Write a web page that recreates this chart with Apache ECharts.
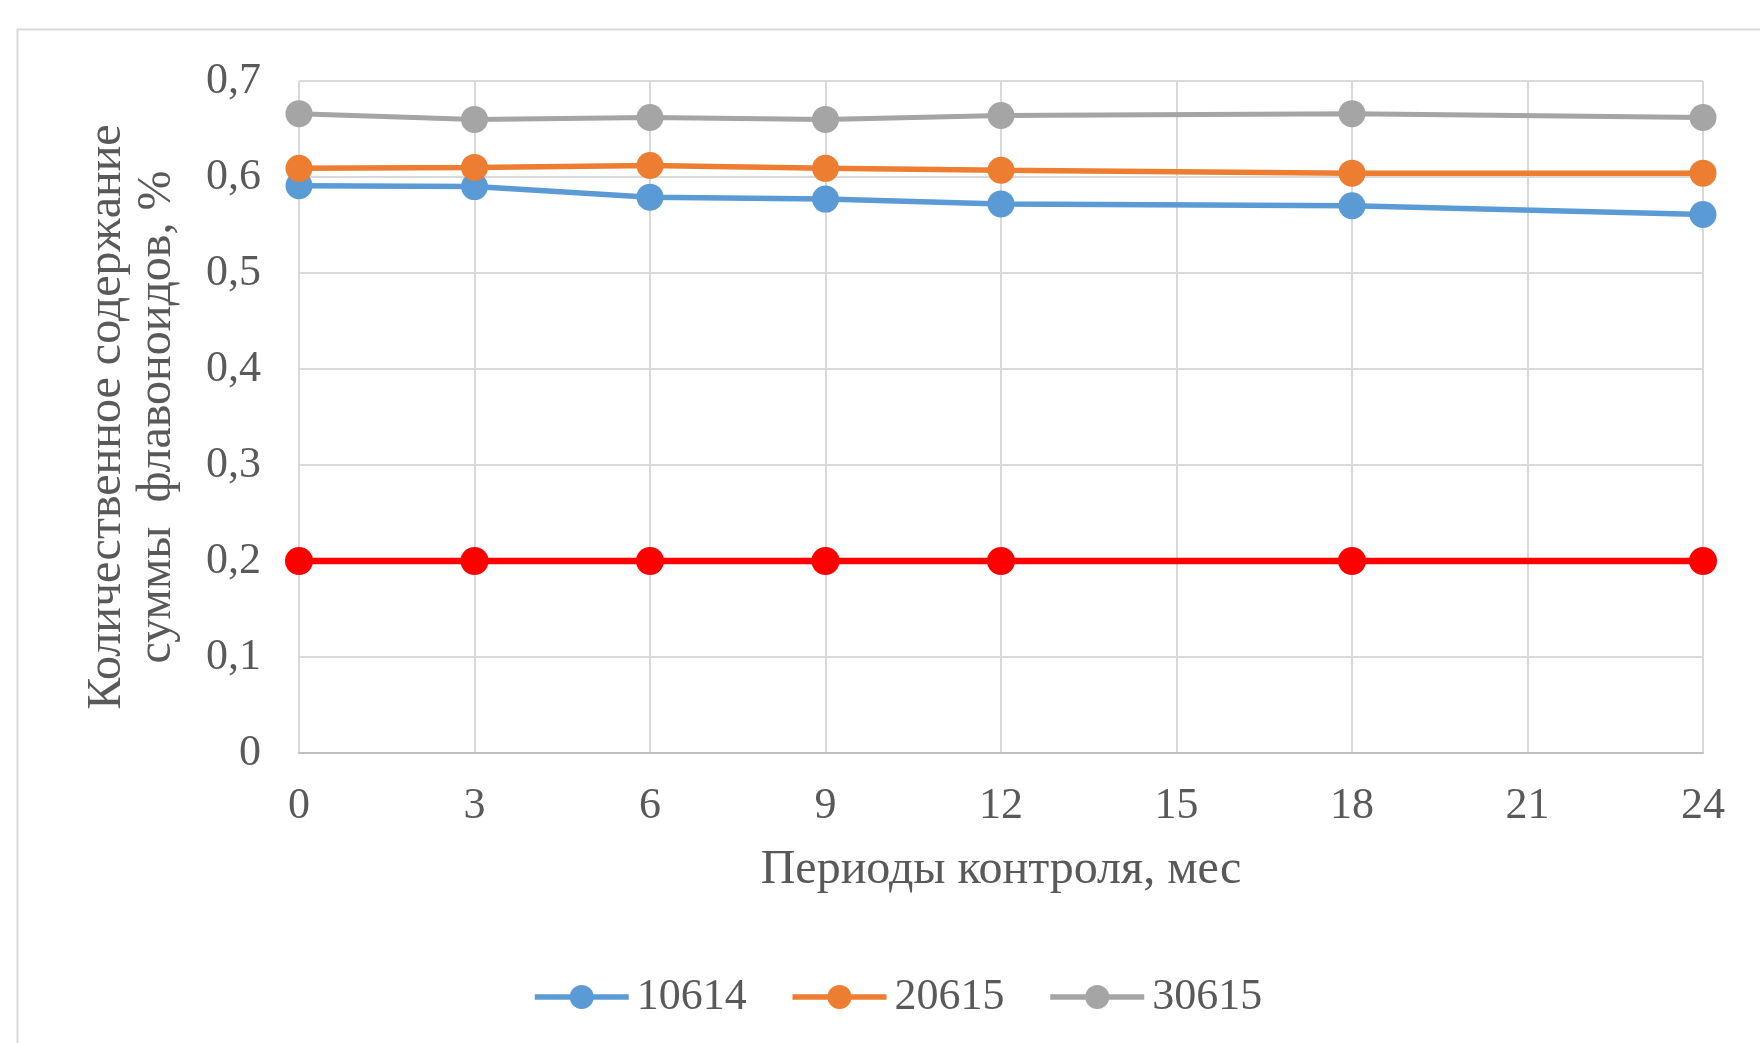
<!DOCTYPE html>
<html>
<head>
<meta charset="utf-8">
<script src="https://cdn.jsdelivr.net/npm/echarts@6/dist/echarts.min.js"></script>
<style>
  html, body { margin: 0; padding: 0; background: #ffffff; }
  #chart { width: 1760px; height: 1043px; }
</style>
</head>
<body>
<div id="chart"></div>
<script>
// Storage periods, months
const months = [0, 3, 6, 9, 12, 18, 24];
// Total flavonoid content, % (per batch)
const batch10614 = [0.591, 0.590, 0.579, 0.577, 0.572, 0.570, 0.561];
const batch20615 = [0.609, 0.610, 0.612, 0.609, 0.607, 0.604, 0.604];
const batch30615 = [0.666, 0.660, 0.662, 0.660, 0.664, 0.666, 0.662];
// Lower limit of the specification
const lowerLimit = [0.2, 0.2, 0.2, 0.2, 0.2, 0.2, 0.2];
const seriesNames = ['10614', '20615', '30615'];

const pairs = vals => months.map((m, i) => [m, vals[i]]);

const font = '"Liberation Serif", "Times New Roman", serif';
const textColor = '#595959';

function lineSeries(name, vals, color, width, size) {
  return {
    name: name,
    type: 'line',
    data: pairs(vals),
    symbol: 'circle',
    symbolSize: size,
    lineStyle: { color: color, width: width },
    itemStyle: { color: color },
    emphasis: { disabled: true }
  };
}

const chart = echarts.init(document.getElementById('chart'));
chart.setOption({
  animation: false,
  backgroundColor: '#ffffff',
  textStyle: { fontFamily: font, color: textColor },
  graphic: [{
    type: 'rect',
    left: 15, top: 27,
    shape: { width: 1760, height: 1043 },
    style: { fill: 'none', stroke: '#d9d9d9', lineWidth: 2 },
    z: -1
  }],
  grid: { left: 299, right: 57, top: 81, bottom: 290 },
  legend: {
    data: seriesNames,
    left: 527,
    top: 970,
    itemWidth: 94,
    itemHeight: 30,
    itemGap: 43,
    lineStyle: { width: 5.5 },
    textStyle: { fontFamily: font, fontSize: 44, color: textColor, padding: [0, 0, 0, 3] }
  },
  xAxis: {
    type: 'value',
    min: 0, max: 24, interval: 3,
    name: 'Периоды контроля, мес',
    nameLocation: 'middle',
    nameGap: 93,
    nameTextStyle: { fontFamily: font, fontSize: 48, color: textColor },
    axisLine: { show: true, lineStyle: { color: '#bfbfbf', width: 2 } },
    axisTick: { show: false },
    splitLine: { show: true, lineStyle: { color: '#d9d9d9', width: 2 } },
    axisLabel: { fontFamily: font, fontSize: 44, color: textColor, margin: 31 }
  },
  yAxis: {
    type: 'value',
    min: 0, max: 0.7, interval: 0.1,
    name: 'Количественное содержание\nсуммы  флавоноидов, %',
    nameLocation: 'middle',
    nameGap: 117,
    nameRotate: 90,
    nameTextStyle: { fontFamily: font, fontSize: 48, color: textColor, lineHeight: 50 },
    axisLine: { show: false },
    axisTick: { show: false },
    splitLine: { show: true, lineStyle: { color: '#d9d9d9', width: 2 } },
    axisLabel: {
      fontFamily: font, fontSize: 44, color: textColor, margin: 38,
      formatter: v => (Math.round(v * 10) / 10).toString().replace('.', ',')
    }
  },
  series: [
    lineSeries(seriesNames[0], batch10614, '#5B9BD5', 5.5, 27),
    lineSeries(seriesNames[1], batch20615, '#ED7D31', 5.5, 27),
    lineSeries(seriesNames[2], batch30615, '#A5A5A5', 5, 27),
    lineSeries('Нижний предел', lowerLimit, '#FF0000', 6.5, 28)
  ]
});
</script>
</body>
</html>
